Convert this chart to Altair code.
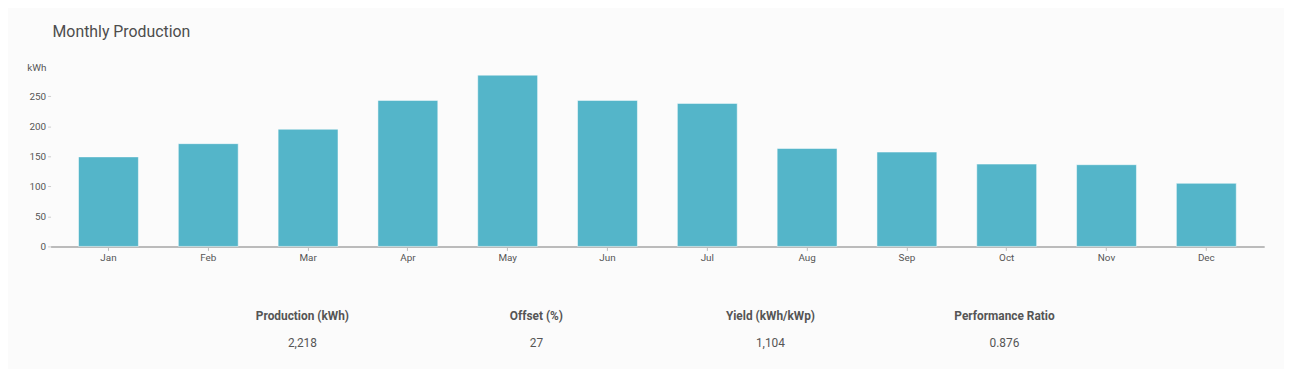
import altair as alt
import pandas as pd

months = ["Jan", "Feb", "Mar", "Apr", "May", "Jun", "Jul", "Aug", "Sep", "Oct", "Nov", "Dec"]
production = [149, 171, 195, 243, 285, 243, 238, 163, 157, 137, 136, 105]

stat_labels = ["Production (kWh)", "Offset (%)", "Yield (kWh/kWp)", "Performance Ratio"]
stat_values = ["2,218", "27", "1,104", "0.876"]

FONT = "Roboto"
TEXT = "#555555"
BAR = "#54b5c9"
BG = "#fbfbfb"

bars_df = pd.DataFrame({"month": months, "kwh": production})
stats_df = pd.DataFrame({"label": stat_labels, "value": stat_values})

bars = alt.Chart(bars_df).mark_bar(
    color=BAR, stroke="#ffffff", strokeWidth=1, strokeOpacity=0.5
).encode(
    x=alt.X(
        "month:N",
        sort=months,
        scale=alt.Scale(paddingInner=0.4, paddingOuter=0.28),
        axis=alt.Axis(
            title=None,
            labelAngle=0,
            labelFont=FONT,
            labelFontSize=10,
            labelColor=TEXT,
            labelPadding=2,
            domainColor="#bbbbbb",
            domainWidth=2,
            tickColor="#bbbbbb",
            tickSize=4,
            grid=False,
        ),
    ),
    y=alt.Y(
        "kwh:Q",
        scale=alt.Scale(domain=[0, 285], nice=False),
        axis=alt.Axis(
            title="kWh",
            titleAngle=0,
            titleAlign="left",
            titleBaseline="middle",
            titleX=-24,
            titleY=-8,
            titleFont=FONT,
            titleFontSize=10,
            titleFontWeight="normal",
            titleColor=TEXT,
            values=[0, 50, 100, 150, 200, 250],
            labelFont=FONT,
            labelFontSize=10,
            labelColor=TEXT,
            labelPadding=2,
            domain=False,
            grid=False,
            tickColor="#cccccc",
            tickSize=3,
        ),
    ),
).properties(
    width=1226,
    height=173,
    view=alt.ViewBackground(stroke="transparent", strokeWidth=0),
    title=alt.TitleParams(
        "Monthly Production",
        anchor="start",
        frame="group",
        font=FONT,
        fontSize=16,
        fontWeight="normal",
        color="#4d4d4d",
        offset=23,
        dx=2,
    ),
)

base = alt.Chart(stats_df).encode(
    x=alt.X(
        "label:N",
        sort=stat_labels,
        scale=alt.Scale(type="band", paddingInner=0, paddingOuter=0.576),
        axis=None,
    )
)
headers = base.mark_text(
    font=FONT, fontSize=12, fontWeight="bold", color=TEXT, baseline="middle"
).encode(text="label:N", y=alt.value(14))
values = base.mark_text(
    font=FONT, fontSize=12, color=TEXT, baseline="middle"
).encode(text="value:N", y=alt.value(42))

stats = alt.layer(headers, values).properties(
    width=1218, height=50,
    view=alt.ViewBackground(stroke="transparent", strokeWidth=0),
)

chart = alt.vconcat(bars, stats, spacing=40).properties(
    padding={"left": 19, "top": 14, "right": 20, "bottom": 16}
).configure_view(
    stroke="transparent", strokeWidth=0
).configure(background=BG)

chart.save("out.html", embed_options={"renderer": "svg", "actions": False})
